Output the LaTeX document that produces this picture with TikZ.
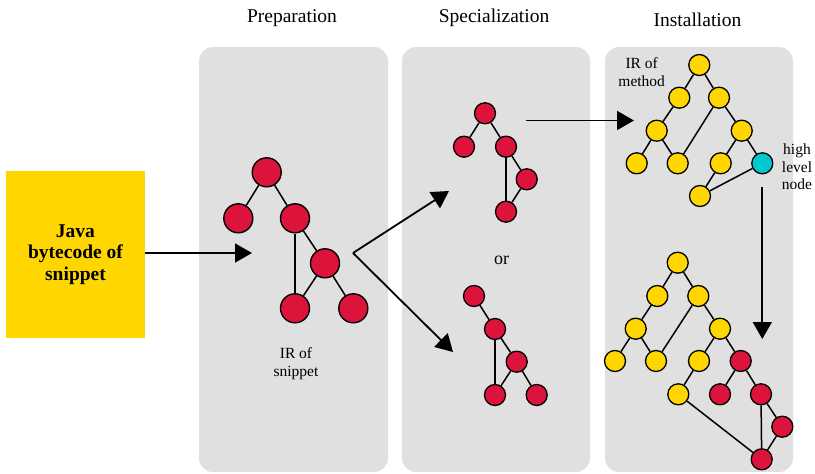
\documentclass[tikz,border=0pt]{standalone}
\usepackage{fontspec}
\setmainfont{Liberation Serif}[BoldFont={Liberation Serif Bold}]
\usetikzlibrary{arrows.meta}
\definecolor{panelgray}{RGB}{224,224,224}
\definecolor{irred}{RGB}{220,20,60}
\definecolor{iryellow}{RGB}{255,214,0}
\definecolor{ircyan}{RGB}{0,200,205}
\tikzset{
  panel/.style={fill=panelgray, rounded corners=14pt, draw=none},
  title/.style={anchor=base, font=\fontsize{19.5}{22}\selectfont},
  caption/.style={align=center, font=\fontsize{15.5}{17.8}\selectfont, inner sep=0pt},
  bignode/.style={circle, draw=black, line width=1.4pt, minimum size=29pt, inner sep=0pt},
  smallnode/.style={circle, draw=black, line width=1.3pt, minimum size=21pt, inner sep=0pt},
  rd/.style={fill=irred},
  yl/.style={fill=iryellow},
  cy/.style={fill=ircyan},
  edge/.style={draw=black, line width=1.5pt},
  flow/.style={draw=black, line width=1.8pt, -{Triangle[length=17pt,width=19pt]}},
}
\begin{document}
\begin{tikzpicture}[x=1pt,y=-1pt]
\useasboundingbox (0,0) rectangle (815,474);

% stage panels
\node[panel, minimum width=189pt, minimum height=425pt] (prep) at (293.5,259.5) {};
\node[panel, minimum width=188pt, minimum height=425pt] (spec) at (496,259.5) {};
\node[panel, minimum width=188pt, minimum height=425pt] (inst) at (699,259.5) {};

% stage titles
\node[title] (tprep) at (292,22.7) {Preparation};
\node[title] (tspec) at (494,22.7) {Specialization};
\node[title] (tinst) at (697.5,26) {Installation};

% input box
\node[fill=iryellow, minimum width=139pt, minimum height=167pt, align=center,
      font=\bfseries\fontsize{19.5}{21.5}\selectfont, inner sep=0pt] (java) at (75.5,254.5)
      {Java\\bytecode of\\snippet};

% ---- Preparation: IR of snippet
\node[bignode, rd] (p1) at (266.7,172.3) {};
\node[bignode, rd] (p2) at (238.3,218.3) {};
\node[bignode, rd] (p3) at (295,218.3) {};
\node[bignode, rd] (p4) at (325,263.3) {};
\node[bignode, rd] (p5) at (295,308.3) {};
\node[bignode, rd] (p6) at (353.3,308.3) {};
\draw[edge] (p1) -- (p2);
\draw[edge] (p1) -- (p3);
\draw[edge] (p3) -- (p4);
\draw[edge] (p3) -- (p5);
\draw[edge] (p4) -- (p5);
\draw[edge] (p4) -- (p6);
\node[caption] (irsnip) at (296,364) {IR of\\snippet};

% ---- Specialization: first variant
\node[smallnode, rd] (s1) at (485,113.3) {};
\node[smallnode, rd] (s2) at (464,146.7) {};
\node[smallnode, rd] (s3) at (506,146.7) {};
\node[smallnode, rd] (s4) at (526.7,179.3) {};
\node[smallnode, rd] (s5) at (506,211.7) {};
\draw[edge] (s1) -- (s2);
\draw[edge] (s1) -- (s3);
\draw[edge] (s3) -- (s4);
\draw[edge] (s3) -- (s5);
\draw[edge] (s4) -- (s5);

\node[font=\fontsize{18}{20}\selectfont] (or) at (501.7,260) {or};

% ---- Specialization: second variant
\node[smallnode, rd] (t1) at (474,296) {};
\node[smallnode, rd] (t2) at (495,329) {};
\node[smallnode, rd] (t3) at (516.7,361.7) {};
\node[smallnode, rd] (t4) at (495,395) {};
\node[smallnode, rd] (t5) at (536.7,395) {};
\draw[edge] (t1) -- (t2);
\draw[edge] (t2) -- (t3);
\draw[edge] (t2) -- (t4);
\draw[edge] (t3) -- (t4);
\draw[edge] (t3) -- (t5);

% ---- Installation: IR of method before inlining
\node[smallnode, yl] (n1) at (699.3,65) {};
\node[smallnode, yl] (n2) at (679.3,97.7) {};
\node[smallnode, yl] (n3) at (719,97.7) {};
\node[smallnode, yl] (n4) at (656.7,130.7) {};
\node[smallnode, yl] (n5) at (741.7,130.7) {};
\node[smallnode, yl] (n6) at (636.7,163.3) {};
\node[smallnode, yl] (n7) at (677.7,163.3) {};
\node[smallnode, yl] (n8) at (720.7,163.3) {};
\node[smallnode, cy] (n9) at (762.3,163.3) {};
\node[smallnode, yl] (n10) at (700,196) {};
\draw[edge] (n1) -- (n2);
\draw[edge] (n1) -- (n3);
\draw[edge] (n2) -- (n4);
\draw[edge] (n4) -- (n6);
\draw[edge] (n4) -- (n7);
\draw[edge] (n3) -- (n7);
\draw[edge] (n3) -- (n5);
\draw[edge] (n5) -- (n8);
\draw[edge] (n5) -- (n9);
\draw[edge] (n8) -- (n10);
\draw[edge] (n9) -- (n10);
\node[caption] (irmeth) at (641.7,72.5) {IR of\\method};
\node[caption] (hlnode) at (797,166.7) {high\\level\\node};

% ---- Installation: method with snippet inlined
\node[smallnode, yl] (m1) at (677.7,262.7) {};
\node[smallnode, yl] (m2) at (657.3,296) {};
\node[smallnode, yl] (m3) at (698.3,296) {};
\node[smallnode, yl] (m4) at (635.7,328.7) {};
\node[smallnode, yl] (m5) at (720,328.7) {};
\node[smallnode, yl] (m6) at (615,361) {};
\node[smallnode, yl] (m7) at (656,361) {};
\node[smallnode, yl] (m8) at (699,361) {};
\node[smallnode, rd] (m9) at (740.7,361) {};
\node[smallnode, yl] (m10) at (678.3,394.3) {};
\node[smallnode, rd] (m11) at (720,394.3) {};
\node[smallnode, rd] (m12) at (761,394.3) {};
\node[smallnode, rd] (m13) at (782.3,426.7) {};
\node[smallnode, rd] (m14) at (761.7,459.3) {};
\draw[edge] (m1) -- (m2);
\draw[edge] (m1) -- (m3);
\draw[edge] (m2) -- (m4);
\draw[edge] (m4) -- (m6);
\draw[edge] (m4) -- (m7);
\draw[edge] (m3) -- (m7);
\draw[edge] (m3) -- (m5);
\draw[edge] (m5) -- (m8);
\draw[edge] (m5) -- (m9);
\draw[edge] (m8) -- (m10);
\draw[edge] (m9) -- (m11);
\draw[edge] (m9) -- (m12);
\draw[edge] (m12) -- (m13);
\draw[edge] (m12) -- (m14);
\draw[edge] (m13) -- (m14);
\draw[edge] (m10) -- (m14);

% ---- flow arrows between stages
\coordinate (prepin) at (252,253);
\coordinate (split) at (353,253);
\coordinate (specup) at (449,191);
\coordinate (specdown) at (453,352);
\coordinate (specout) at (526,120.5);
\coordinate (instin) at (634,120.5);
\coordinate (downfrom) at (762.3,187);
\coordinate (downto) at (762.3,339);
\draw[flow] (java.east |- prepin) -- (prepin);
\draw[flow] (split) -- (specup);
\draw[flow] (split) -- (specdown);
\draw[flow] (specout) -- (instin);
\draw[flow] (downfrom) -- (downto);
\end{tikzpicture}
\end{document}
